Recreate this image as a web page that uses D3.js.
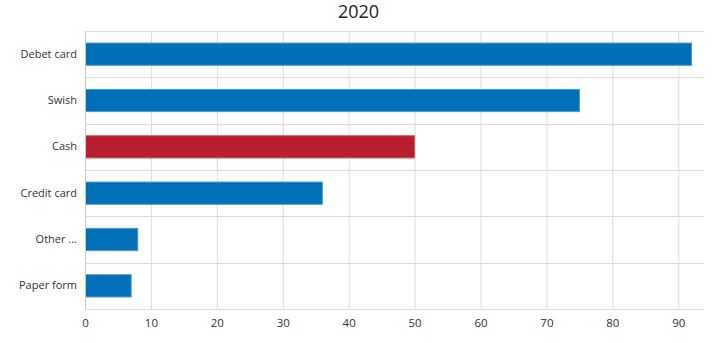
<!DOCTYPE html>
<html>
<head>
<meta charset="utf-8">
<script src="https://cdn.jsdelivr.net/npm/d3@7"></script>
<style>
  html, body { margin: 0; padding: 0; background: #fff; }
  svg { display: block; font-family: "Open Sans", "Noto Sans", sans-serif; }
</style>
</head>
<body>
<svg id="chart" width="717" height="343"></svg>
<script>
// Payment methods used in 2020 (share, %)
const categories = ["Debet card", "Swish", "Cash", "Credit card", "Other ...", "Paper form"];
const values = [92, 75, 50, 36, 8, 7];
const highlighted = ["Cash"];
const xTicks = [0, 10, 20, 30, 40, 50, 60, 70, 80, 90];
const title = "2020";

const svg = d3.select("#chart");
const margin = { top: 31, right: 13, bottom: 34, left: 85 };
const width = 717 - margin.left - margin.right;
const height = 343 - margin.top - margin.bottom;

const x = d3.scaleLinear().domain([0, 93.9]).range([0, width]);
const y = d3.scaleBand().domain(categories).range([0, height]).paddingInner(0.52).paddingOuter(0.26);

const g = svg.append("g").attr("transform", `translate(${margin.left},${margin.top})`);

// vertical gridlines at each tick
g.append("g").selectAll("line").data(xTicks).join("line")
  .attr("x1", d => x(d) + 0.5).attr("x2", d => x(d) + 0.5)
  .attr("y1", 0).attr("y2", height)
  .attr("stroke", "#dcdcdc").attr("stroke-width", 1);

// horizontal lines at category boundaries
const step = height / categories.length;
g.append("g").selectAll("line").data(d3.range(categories.length + 1)).join("line")
  .attr("x1", 0).attr("x2", width)
  .attr("y1", d => Math.round(d * step) + 0.5).attr("y2", d => Math.round(d * step) + 0.5)
  .attr("stroke", "#dcdcdc").attr("stroke-width", 1);

// bars
g.append("g").selectAll("rect").data(categories).join("rect")
  .attr("x", 0.5)
  .attr("y", d => y(d))
  .attr("width", (d, i) => x(values[i]) - 0.5)
  .attr("height", y.bandwidth())
  .attr("fill", d => highlighted.includes(d) ? "#b81e2d" : "#0070b8")
  .attr("stroke", d => highlighted.includes(d) ? "#cc5a64" : "#4a98d0")
  .attr("stroke-width", 1);

// left axis line
g.append("line").attr("x1", 0.5).attr("x2", 0.5).attr("y1", 0).attr("y2", height)
  .attr("stroke", "#c8c8c8");

// category labels
const yAxis = g.append("g").call(d3.axisLeft(y).tickSize(0).tickPadding(8));
yAxis.select(".domain").remove();
yAxis.selectAll("text").attr("font-size", 11).attr("fill", "#333")
  .attr("font-family", "\"Open Sans\", sans-serif");

// value axis
const xAxis = g.append("g").attr("transform", `translate(0,${height})`)
  .call(d3.axisBottom(x).tickValues(xTicks).tickSize(0).tickPadding(10));
xAxis.select(".domain").remove();
xAxis.selectAll("text").attr("font-size", 11.5).attr("fill", "#333")
  .attr("font-family", "\"Open Sans\", sans-serif");

// title
svg.append("text")
  .attr("x", 358.5).attr("y", 18)
  .attr("text-anchor", "middle")
  .attr("font-size", 18).attr("fill", "#222")
  .text(title);
</script>
</body>
</html>
